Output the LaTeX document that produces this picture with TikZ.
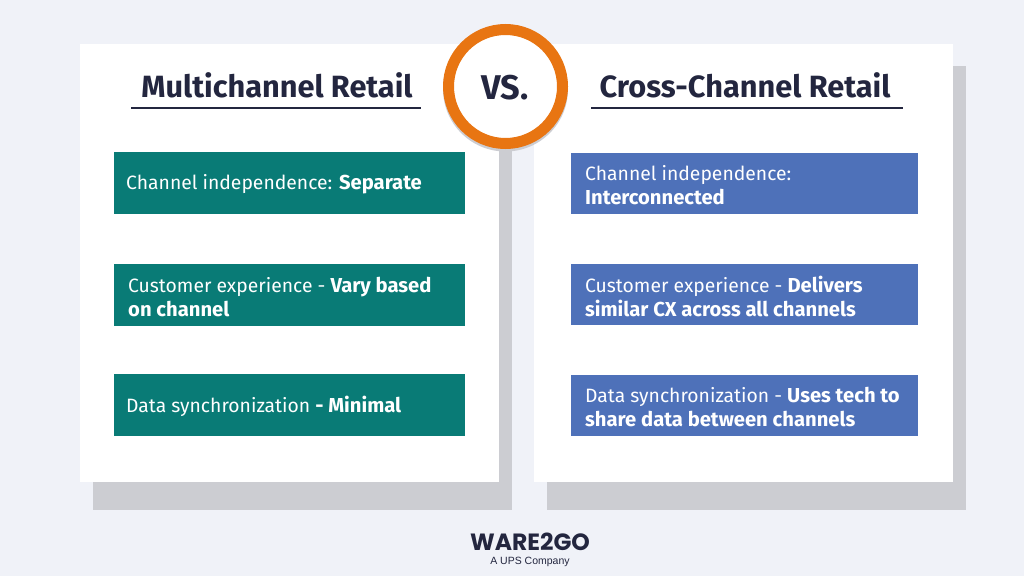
\documentclass[tikz,border=0pt]{standalone}
\usepackage{fontspec}
\setmainfont{Fira Sans}[Scale=0.94]
\newfontfamily\logofont{Poppins}
\newfontfamily\subfont{Liberation Sans}
\newcommand{\bt}[1]{{\fontsize{21.5}{24}\selectfont\bfseries #1}}
\definecolor{bgc}{HTML}{F0F2F8}
\definecolor{shadowc}{HTML}{CCCDD2}
\definecolor{tealc}{HTML}{097B76}
\definecolor{bluec}{HTML}{4E71B9}
\definecolor{inkc}{HTML}{23263F}
\definecolor{orangec}{HTML}{E87512}
\tikzset{x=1pt,y=-1pt,
 card/.style={fill=white,draw=none},
 shade box/.style={fill=shadowc,draw=none},
 rule line/.style={draw=inkc,line width=1.8pt},
 title text/.style={text=inkc,font=\fontsize{32.7}{36}\selectfont\bfseries,inner sep=0pt},
 info/.style={anchor=west,inner sep=0pt,text=white,align=left,font=\fontsize{20.56}{24}\selectfont},
}
\begin{document}
\begin{tikzpicture}
\useasboundingbox (0,0) rectangle (1024,576);
\fill[bgc] (0,0) rectangle (1024,576);
\fill[shade box] (93,66) rectangle (512,510);
\fill[shade box] (547,66) rectangle (966,510);
\fill[card] (80,44) rectangle (499,482);
\fill[card] (534,44) rectangle (953,482);
\node[title text] (t1) at (277,85) {Multichannel Retail};
\node[title text] (t2) at (745,85) {Cross-Channel Retail};
\coordinate (l1a) at (131,108); \coordinate (l1b) at (421,108);
\coordinate (l2a) at (591,108); \coordinate (l2b) at (903,108);
\draw[rule line] (l1a) -- (l1b);
\draw[rule line] (l2a) -- (l2b);
\fill[tealc] (114,152) rectangle (465,214);
\fill[tealc] (114,264) rectangle (465,326);
\fill[tealc] (114,374) rectangle (465,436);
\fill[bluec] (571,153) rectangle (918,214);
\fill[bluec] (571,264) rectangle (918,325);
\fill[bluec] (571,375) rectangle (918,436);
\node[info] (a1) at (126,184.5) {Channel independence: \bt{Separate}};
\node[info] (a2) at (128,297) {Customer experience - \bt{Vary based}\\\bt{on channel}};
\node[info] (a3) at (126,406.5) {Data synchronization \bt{- Minimal}};
\node[info] (b1) at (585,185) {Channel independence:\\\bt{Interconnected}};
\node[info] (b2) at (585,296) {Customer experience - \bt{Delivers}\\\bt{similar CX across all channels}};
\node[info] (b3) at (585,407) {Data synchronization - \bt{Uses tech to}\\\bt{share data between channels}};
\fill[shadowc] (505.5,89) circle (62.5);
\node[circle,draw=orangec,fill=white,line width=11pt,minimum size=114pt,inner sep=0pt] (vs) at (505.5,86.5) {};
\node[inner sep=0pt,text=inkc,font=\fontsize{36.5}{40}\selectfont\bfseries] (vst) at (505,88) {VS.};
\node[anchor=base,inner sep=0pt,text height=17pt,text depth=0pt,text=inkc,font=\logofont\fontsize{23.5}{26}\selectfont\bfseries] (logo) at (530,550) {WARE2GO};
\node[anchor=base,inner sep=0pt,text height=8pt,text depth=2pt,text=inkc,font=\subfont\fontsize{10.5}{12}\selectfont] (sub) at (530,564) {A UPS Company};
\end{tikzpicture}
\end{document}
